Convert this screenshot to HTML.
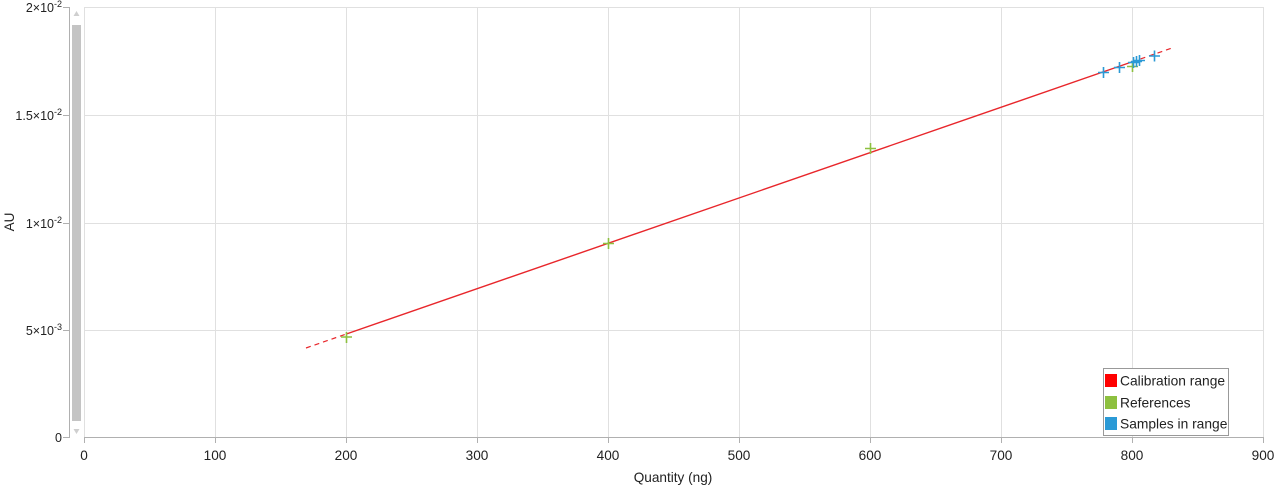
<!DOCTYPE html>
<html><head><meta charset="utf-8"><style>
html,body{margin:0;padding:0;background:#fff;}
svg{display:block;font-family:"Liberation Sans",Arial,sans-serif;}
</style></head><body>
<svg width="1279" height="486" viewBox="0 0 1279 486" xmlns="http://www.w3.org/2000/svg">
<rect width="1279" height="486" fill="#fff"/>
<!-- gridlines -->
<g stroke="#e0e0e0" stroke-width="1">
<line x1="84" y1="7.5" x2="1263" y2="7.5"/>
<line x1="84" y1="115.5" x2="1263" y2="115.5"/>
<line x1="84" y1="223.5" x2="1263" y2="223.5"/>
<line x1="84" y1="330.5" x2="1263" y2="330.5"/>
<line x1="215.5" y1="7" x2="215.5" y2="437"/>
<line x1="346.5" y1="7" x2="346.5" y2="437"/>
<line x1="477.5" y1="7" x2="477.5" y2="437"/>
<line x1="608.5" y1="7" x2="608.5" y2="437"/>
<line x1="739.5" y1="7" x2="739.5" y2="437"/>
<line x1="870.5" y1="7" x2="870.5" y2="437"/>
<line x1="1001.5" y1="7" x2="1001.5" y2="437"/>
<line x1="1132.5" y1="7" x2="1132.5" y2="437"/>
<line x1="1263.5" y1="7" x2="1263.5" y2="437"/>
<line x1="84.5" y1="7" x2="84.5" y2="437"/>
</g>
<!-- axes -->
<g stroke="#b0b0b0" stroke-width="1">
<line x1="84" y1="437.5" x2="1264" y2="437.5"/>
<line x1="69.5" y1="7" x2="69.5" y2="438"/>
<line x1="63" y1="7.5" x2="69" y2="7.5"/>
<line x1="63" y1="115.5" x2="69" y2="115.5"/>
<line x1="63" y1="223.5" x2="69" y2="223.5"/>
<line x1="63" y1="330.5" x2="69" y2="330.5"/>
<line x1="63" y1="437.5" x2="69" y2="437.5"/>
<line x1="84.5" y1="437" x2="84.5" y2="443"/>
<line x1="215.5" y1="437" x2="215.5" y2="443"/>
<line x1="346.5" y1="437" x2="346.5" y2="443"/>
<line x1="477.5" y1="437" x2="477.5" y2="443"/>
<line x1="608.5" y1="437" x2="608.5" y2="443"/>
<line x1="739.5" y1="437" x2="739.5" y2="443"/>
<line x1="870.5" y1="437" x2="870.5" y2="443"/>
<line x1="1001.5" y1="437" x2="1001.5" y2="443"/>
<line x1="1132.5" y1="437" x2="1132.5" y2="443"/>
<line x1="1263.5" y1="437" x2="1263.5" y2="443"/>
</g>
<!-- scrollbar -->
<rect x="72" y="25" width="9" height="396" fill="#c4c4c4"/>
<polygon points="73.5,16 79.5,16 76.5,11" fill="#cfcfcf"/>
<polygon points="73.5,429 79.5,429 76.5,434" fill="#cfcfcf"/>
<!-- y labels -->
<g font-size="12.5" fill="#222" text-anchor="end">
<text x="62" y="12">2×10<tspan font-size="9" dy="-5">-2</tspan></text>
<text x="62" y="120">1.5×10<tspan font-size="9" dy="-5">-2</tspan></text>
<text x="62" y="228">1×10<tspan font-size="9" dy="-5">-2</tspan></text>
<text x="62" y="335">5×10<tspan font-size="9" dy="-5">-3</tspan></text>
<text x="62" y="442">0</text>
</g>
<text x="14" y="222" font-size="13.5" fill="#222" text-anchor="middle" transform="rotate(-90 14 222)">AU</text>
<!-- x labels -->
<g font-size="13.6" fill="#222" text-anchor="middle">
<text x="84" y="460">0</text>
<text x="215" y="460">100</text>
<text x="346" y="460">200</text>
<text x="477" y="460">300</text>
<text x="608" y="460">400</text>
<text x="739" y="460">500</text>
<text x="870" y="460">600</text>
<text x="1001" y="460">700</text>
<text x="1132" y="460">800</text>
<text x="1263" y="460">900</text>
<text x="673" y="482">Quantity (ng)</text>
</g>
<!-- regression line -->
<line x1="306" y1="348" x2="346" y2="334.1" stroke="#e8262b" stroke-width="1.2" stroke-dasharray="5,4"/>
<line x1="346" y1="334.1" x2="1132" y2="61.9" stroke="#e8262b" stroke-width="1.4"/>
<line x1="1132" y1="61.9" x2="1172" y2="48" stroke="#e8262b" stroke-width="1.2" stroke-dasharray="5,4"/>
<!-- references (green) -->
<g stroke="#8dc03f" stroke-width="1.6">
<path d="M341 337h11M346.5 332v11"/>
<path d="M603 243.5h11M608.5 238v11"/>
<path d="M865 148.5h11M870.5 143v11"/>
<path d="M1127 66.5h11M1132.5 61v11"/>
</g>
<!-- samples (blue) -->
<g stroke="#2b9ad6" stroke-width="1.6">
<path d="M1098 72.5h11M1103.5 67v11"/>
<path d="M1114 67.5h11M1119.5 62v11"/>
<path d="M1128 62.5h11M1133.5 57v11"/>
<path d="M1131 61.5h11M1136.5 56v11"/>
<path d="M1134 60.5h11M1139.5 55v11"/>
<path d="M1149 56h11M1154.5 50.5v11"/>
</g>
<!-- legend -->
<rect x="1103.5" y="368.5" width="125" height="67" fill="#fff" stroke="#999" stroke-width="1"/>
<rect x="1105" y="374" width="12" height="13" fill="#ff0000"/>
<rect x="1105" y="396" width="12" height="13" fill="#8dc03f"/>
<rect x="1105" y="417" width="12" height="13" fill="#2b9ad6"/>
<g font-size="13.8" fill="#222">
<text x="1120" y="385.5">Calibration range</text>
<text x="1120" y="407.5">References</text>
<text x="1120" y="428.5">Samples in range</text>
</g>
</svg>
</body></html>
